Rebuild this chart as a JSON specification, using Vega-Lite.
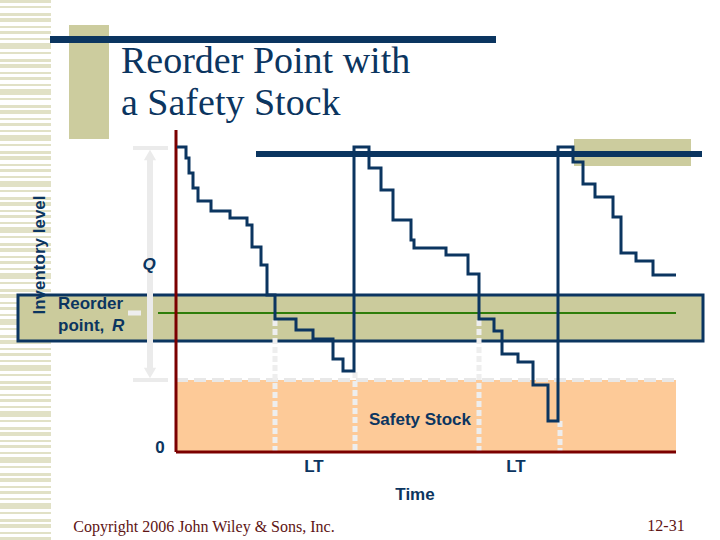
{
  "$schema": "https://vega.github.io/schema/vega-lite/v6.json",
  "width": 720,
  "height": 540,
  "autosize": {"type": "fit", "contains": "padding"},
  "padding": 0,
  "background": "white",
  "config": {"view": {"stroke": null}},
  "datasets": {
    "stripes": [{"t": -150.5, "level": -88, "level2": 452}],
    "blocks": [
      {"name": "title block", "t": -107, "t2": -67, "level": 427, "level2": 313},
      {"name": "corner block", "t": 398, "t2": 515, "level": 313, "level2": 286}
    ],
    "titleBar": [{"t": -126, "t2": 320, "level": 416, "level2": 409}],
    "safety": [{"t": 0, "t2": 500, "level": 0, "level2": 72}],
    "band": [{"t": -158, "t2": 527, "level": 157, "level2": 111}],
    "reorderLine": [{"t": -18, "t2": 500, "level": 139}],
    "ssLine": [{"t": 0, "t2": 500, "level": 72}],
    "qTicks": [{"t": -43, "t2": -8, "level": 304}, {"t": -43, "t2": -8, "level": 72}],
    "qShaft": [{"t": -26, "level": 296, "level2": 80}],
    "qHeadUp": [{"t": -26, "level": 297}],
    "qHeadDown": [{"t": -26, "level": 79}],
    "leadMarks": [
      {"t": 99, "level": 132, "level2": 0},
      {"t": 179, "level": 80, "level2": 0},
      {"t": 303, "level": 132, "level2": 0},
      {"t": 384, "level": 31, "level2": 0}
    ],
    "tick": [{"t": -48, "t2": -35, "level": 139}],
    "qLine": [{"t": 80, "t2": 526, "level": 298}],
    "yAxis": [{"t": 0, "level": 322, "level2": 0}],
    "xAxis": [{"t": 0, "t2": 500, "level": 0}],
    "inventory": [
      {"t": 1, "level": 305}, {"t": 10, "level": 294}, {"t": 13, "level": 279}, {"t": 17, "level": 264},
      {"t": 22, "level": 251}, {"t": 35, "level": 241}, {"t": 54, "level": 234}, {"t": 71, "level": 227},
      {"t": 76, "level": 205}, {"t": 85, "level": 187}, {"t": 91, "level": 157}, {"t": 99, "level": 133},
      {"t": 120, "level": 122}, {"t": 137, "level": 113}, {"t": 157, "level": 93}, {"t": 167, "level": 81},
      {"t": 178, "level": 305}, {"t": 193, "level": 284}, {"t": 205, "level": 262}, {"t": 217, "level": 232},
      {"t": 235, "level": 212}, {"t": 238, "level": 204}, {"t": 270, "level": 197}, {"t": 292, "level": 178},
      {"t": 303, "level": 133}, {"t": 318, "level": 121}, {"t": 326, "level": 98}, {"t": 342, "level": 90},
      {"t": 357, "level": 67}, {"t": 372, "level": 31}, {"t": 382, "level": 305}, {"t": 397, "level": 290},
      {"t": 407, "level": 268}, {"t": 419, "level": 255}, {"t": 437, "level": 235}, {"t": 445, "level": 199},
      {"t": 460, "level": 191}, {"t": 477, "level": 177}, {"t": 500, "level": 177}
    ],
    "title": [
      {"t": -55, "level": 379, "label": "Reorder Point with"},
      {"t": -55, "level": 337, "label": "a Safety Stock"}
    ],
    "labelsCenter": [
      {"t": -16, "level": 4, "label": "0"},
      {"t": 138, "level": -15, "label": "LT"},
      {"t": 340, "level": -15, "label": "LT"},
      {"t": 239, "level": -43, "label": "Time"},
      {"t": 244, "level": 32, "label": "Safety Stock"}
    ],
    "labelsLeft": [
      {"t": -118, "level": 148, "label": "Reorder"},
      {"t": -118, "level": 126, "label": "point,"}
    ],
    "italicR": [{"t": -64, "level": 126, "label": "R"}],
    "italicQ": [{"t": -27, "level": 187, "label": "Q"}],
    "yTitle": [{"t": -136, "level": 197, "label": "Inventory level"}],
    "footer": [
      {"t": 28, "level": -75, "label": "Copyright 2006 John Wiley & Sons, Inc."},
      {"t": 490, "level": -74, "label": "12-31"}
    ]
  },
  "encoding": {
    "x": {"field": "t", "type": "quantitative", "scale": {"domain": [-176, 544], "nice": false, "zero": false}, "axis": null},
    "y": {"field": "level", "type": "quantitative", "scale": {"domain": [-88, 452], "nice": false, "zero": false}, "axis": null}
  },
  "layer": [
    {"data": {"name": "stripes"}, "mark": {"type": "rule", "clip": true, "color": "#e1e1c6", "strokeWidth": 51, "strokeDash": [3, 3, 2, 4, 4, 2, 3, 5, 2, 3, 6, 3, 2, 4]}, "encoding": {"y2": {"field": "level2"}}},
    {"data": {"name": "blocks"}, "mark": {"type": "rect", "color": "#cccc9e"}, "encoding": {"x2": {"field": "t2"}, "y2": {"field": "level2"}}},
    {"data": {"name": "titleBar"}, "mark": {"type": "rect", "color": "#0b3560"}, "encoding": {"x2": {"field": "t2"}, "y2": {"field": "level2"}}},
    {"data": {"name": "safety"}, "mark": {"type": "rect", "color": "#fdca98"}, "encoding": {"x2": {"field": "t2"}, "y2": {"field": "level2"}}},
    {"data": {"name": "band"}, "mark": {"type": "rect", "fill": "#cbcb9c", "stroke": "#0b3560", "strokeWidth": 3}, "encoding": {"x2": {"field": "t2"}, "y2": {"field": "level2"}}},
    {"data": {"name": "reorderLine"}, "mark": {"type": "rule", "color": "#2e7d0a", "strokeWidth": 2}, "encoding": {"x2": {"field": "t2"}}},
    {"data": {"name": "ssLine"}, "mark": {"type": "rule", "color": "#e8e8e8", "strokeWidth": 4, "strokeDash": [12, 6]}, "encoding": {"x2": {"field": "t2"}}},
    {"data": {"name": "leadMarks"}, "mark": {"type": "rule", "color": "#eeeeee", "strokeWidth": 5, "strokeDash": [6, 3]}, "encoding": {"y2": {"field": "level2"}}},
    {"data": {"name": "qTicks"}, "mark": {"type": "rule", "color": "#ebebeb", "strokeWidth": 4}, "encoding": {"x2": {"field": "t2"}}},
    {"data": {"name": "qShaft"}, "mark": {"type": "rule", "color": "#ebebeb", "strokeWidth": 6}, "encoding": {"y2": {"field": "level2"}}},
    {"data": {"name": "qHeadUp"}, "mark": {"type": "point", "shape": "triangle-up", "filled": true, "color": "#ebebeb", "size": 150, "opacity": 1}},
    {"data": {"name": "qHeadDown"}, "mark": {"type": "point", "shape": "triangle-down", "filled": true, "color": "#ebebeb", "size": 150, "opacity": 1}},
    {"data": {"name": "tick"}, "mark": {"type": "rule", "color": "#eeeeee", "strokeWidth": 5}, "encoding": {"x2": {"field": "t2"}}},
    {"data": {"name": "qLine"}, "mark": {"type": "rule", "color": "#0b3560", "strokeWidth": 6}, "encoding": {"x2": {"field": "t2"}}},
    {"data": {"name": "yAxis"}, "mark": {"type": "rule", "color": "#7b0000", "strokeWidth": 3}, "encoding": {"y2": {"field": "level2"}}},
    {"data": {"name": "xAxis"}, "mark": {"type": "rule", "color": "#7b0000", "strokeWidth": 3}, "encoding": {"x2": {"field": "t2"}}},
    {"data": {"name": "inventory"}, "mark": {"type": "line", "interpolate": "step-after", "color": "#0b3560", "strokeWidth": 3}},
    {"data": {"name": "title"}, "mark": {"type": "text", "font": "Liberation Serif, DejaVu Serif, serif", "fontSize": 38, "color": "#0b3560", "align": "left", "baseline": "alphabetic"}, "encoding": {"text": {"field": "label"}}},
    {"data": {"name": "labelsCenter"}, "mark": {"type": "text", "font": "Liberation Sans", "fontWeight": "bold", "fontSize": 17, "color": "#0b3560", "align": "center", "baseline": "middle"}, "encoding": {"text": {"field": "label"}}},
    {"data": {"name": "labelsLeft"}, "mark": {"type": "text", "font": "Liberation Sans", "fontWeight": "bold", "fontSize": 17, "color": "#0b3560", "align": "left", "baseline": "middle"}, "encoding": {"text": {"field": "label"}}},
    {"data": {"name": "italicR"}, "mark": {"type": "text", "font": "Liberation Sans", "fontWeight": "bold", "fontStyle": "italic", "fontSize": 17, "color": "#0b3560", "align": "left", "baseline": "middle"}, "encoding": {"text": {"field": "label"}}},
    {"data": {"name": "italicQ"}, "mark": {"type": "text", "font": "Liberation Sans", "fontWeight": "bold", "fontStyle": "italic", "fontSize": 17, "color": "#0b3560", "align": "center", "baseline": "middle"}, "encoding": {"text": {"field": "label"}}},
    {"data": {"name": "yTitle"}, "mark": {"type": "text", "font": "Liberation Sans", "fontWeight": "bold", "fontSize": 17, "color": "#0b3560", "align": "center", "baseline": "middle", "angle": 270}, "encoding": {"text": {"field": "label"}}},
    {"data": {"name": "footer"}, "mark": {"type": "text", "font": "Liberation Serif, DejaVu Serif, serif", "fontSize": 16, "color": "#5e1414", "align": "center", "baseline": "middle"}, "encoding": {"text": {"field": "label"}}}
  ]
}
